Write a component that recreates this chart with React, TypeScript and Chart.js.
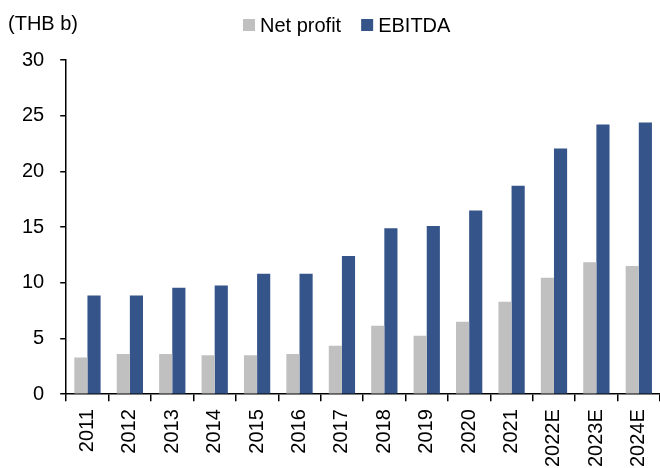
import React, { useEffect, useRef } from "react";
import { Chart, registerables } from "chart.js";

Chart.register(...registerables);

const categories = ["2011", "2012", "2013", "2014", "2015", "2016", "2017", "2018", "2019", "2020", "2021", "2022E", "2023E", "2024E"];
const netProfit = [3.3, 3.6, 3.6, 3.5, 3.5, 3.6, 4.35, 6.15, 5.25, 6.5, 8.3, 10.45, 11.85, 11.5];
const ebitda = [8.85, 8.85, 9.55, 9.75, 10.8, 10.8, 12.4, 14.9, 15.1, 16.5, 18.7, 22.05, 24.2, 24.4];
const seriesNames = ["Net profit", "EBITDA"];
const seriesColors = ["#C0C0C0", "#34548A"];
const unitLabel = "(THB b)";
const yTicks = { min: 0, max: 30, step: 5 };

const FONT = "'Liberation Sans', Arial, sans-serif";

const headerPlugin = {
  id: "headerPlugin",
  afterDraw(chart: any) {
    const ctx = chart.ctx;
    ctx.save();
    ctx.font = `20px ${FONT}`;
    ctx.fillStyle = "#000";
    ctx.textBaseline = "middle";
    ctx.textAlign = "left";
    ctx.fillText(unitLabel, 8, 24);
    let x = 243;
    const cy = 25;
    chart.data.datasets.forEach((ds: any) => {
      ctx.fillStyle = ds.backgroundColor;
      ctx.fillRect(x, cy - 6, 12, 12);
      x += 12 + 5;
      ctx.fillStyle = "#000";
      ctx.fillText(ds.label, x, cy + 1);
      x += ctx.measureText(ds.label).width + 20;
    });
    ctx.restore();
  },
};

export default function App() {
  const ref = useRef<HTMLCanvasElement | null>(null);
  useEffect(() => {
    if (!ref.current) return;
    const chart = new Chart(ref.current, {
      type: "bar",
      data: {
        labels: categories,
        datasets: [
          { label: seriesNames[0], data: netProfit, backgroundColor: seriesColors[0] },
          { label: seriesNames[1], data: ebitda, backgroundColor: seriesColors[1] },
        ],
      },
      options: {
        animation: false,
        responsive: true,
        maintainAspectRatio: false,
        layout: { padding: { top: 60, left: 6, right: 0, bottom: -7 } },
        datasets: { bar: { categoryPercentage: 0.62, barPercentage: 1 } },
        plugins: { legend: { display: false }, tooltip: { enabled: false } },
        scales: {
          x: {
            offset: true,
            afterFit: (s: any) => {
              s.paddingLeft = 0;
              s.paddingRight = 0;
            },
            grid: { display: true, drawOnChartArea: false, drawTicks: true, tickLength: 7, color: "#000", lineWidth: 1.5, offset: true },
            border: { display: true, color: "#000", width: 1.5 },
            ticks: {
              autoSkip: false,
              maxRotation: 90,
              minRotation: 90,
              padding: 8,
              color: "#000",
              font: { family: FONT, size: 20 },
            },
          },
          y: {
            min: yTicks.min,
            max: yTicks.max,
            grid: { display: true, drawOnChartArea: false, drawTicks: true, tickLength: 6, color: "#000", lineWidth: 1.5 },
            border: { display: true, color: "#000", width: 1.5 },
            ticks: {
              stepSize: yTicks.step,
              padding: 16,
              color: "#000",
              font: { family: FONT, size: 20 },
            },
          },
        },
      },
      plugins: [headerPlugin],
    } as any);
    return () => chart.destroy();
  }, []);
  return (
    <div style={{ position: "absolute", left: 0, top: 0, width: 660, height: 468 }}>
      <canvas ref={ref} />
    </div>
  );
}
